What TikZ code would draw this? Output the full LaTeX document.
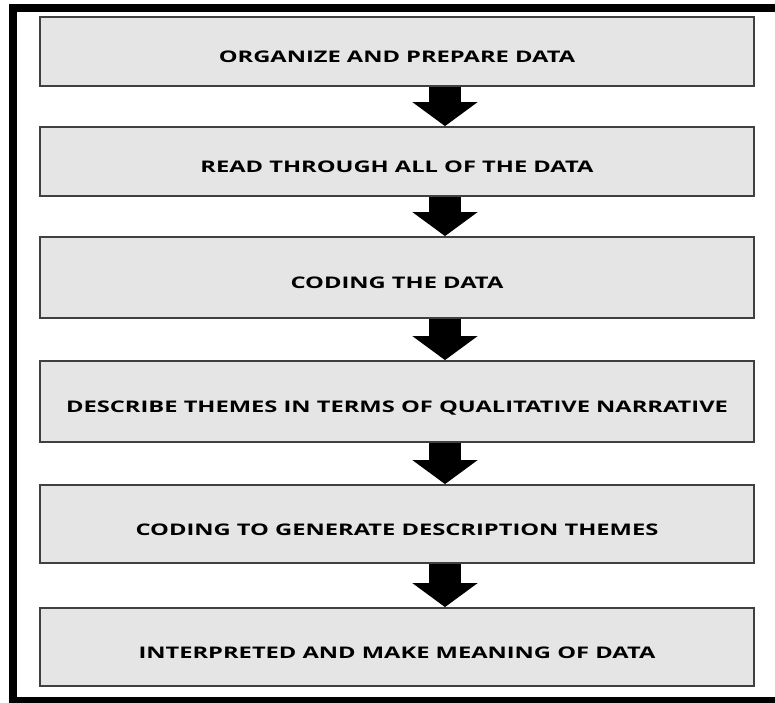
\documentclass[tikz,border=0pt]{standalone}
\usepackage{fontspec}
\newfontfamily\stagefont[FakeStretch=1.48]{Open Sans}
\usetikzlibrary{arrows.meta}
\tikzset{
  stagebox/.style={draw=black!75, line width=1.8pt, fill=black!10,
    minimum width=714pt, inner sep=0pt, text height=22pt, text depth=0pt,
    font=\stagefont\bfseries\fontsize{16}{19}\selectfont},
  downarrow/.style={line width=32pt, -{Triangle[width=64pt,length=24pt]}}
}
\begin{document}
\begin{tikzpicture}[x=1pt,y=-1pt]
  \useasboundingbox (0,0) rectangle (775,702);
  \clip (0,0) rectangle (775,702);
  \draw[line width=8pt] (13,8) rectangle (790,701);
  \node[stagebox, minimum height=69pt] (organize) at (397,51.5) {ORGANIZE AND PREPARE DATA};
  \node[stagebox, minimum height=69pt] (read) at (397,161.5) {READ THROUGH ALL OF THE DATA};
  \node[stagebox, minimum height=81pt] (coding) at (397,277.5) {CODING THE DATA};
  \node[stagebox, minimum height=81pt] (describe) at (397,401.5) {DESCRIBE THEMES IN TERMS OF QUALITATIVE NARRATIVE};
  \node[stagebox, minimum height=78pt] (generate) at (397,524) {CODING TO GENERATE DESCRIPTION THEMES};
  \node[stagebox, minimum height=78pt] (interpret) at (397,647) {INTERPRETED AND MAKE MEANING OF DATA};
  \foreach \a/\b in {organize/read, read/coding, coding/describe, describe/generate, generate/interpret}
    \draw[downarrow] ([xshift=48pt]\a.south) -- ([xshift=48pt]\b.north);
\end{tikzpicture}
\end{document}
